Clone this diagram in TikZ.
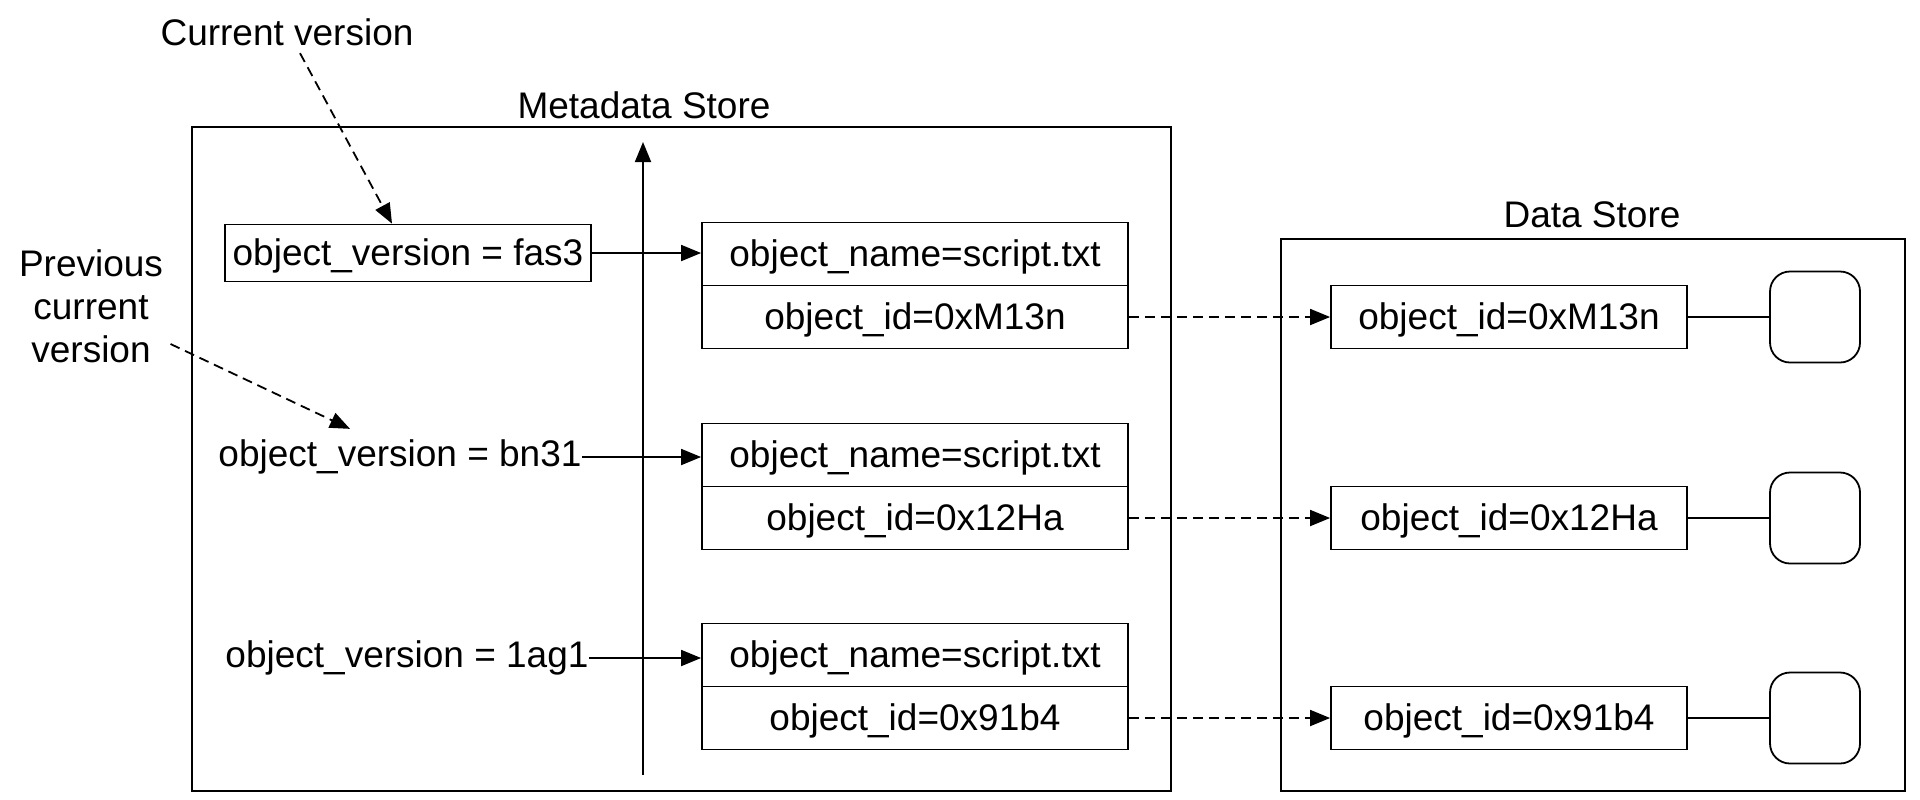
\documentclass[tikz,border=0pt]{standalone}
\usepackage{fontspec}
\setmainfont{Liberation Sans}
\usetikzlibrary{arrows.meta}
\tikzset{
  cell/.style={draw,inner sep=0pt,minimum width=213pt,minimum height=31.5pt,text depth=1pt},
  verbox/.style={draw,inner sep=0pt,minimum width=183pt,minimum height=28.5pt,text depth=1pt},
  idbox/.style={draw,inner sep=0pt,minimum width=178pt,minimum height=31.5pt,text depth=1pt},
  blob/.style={draw,rounded corners=10pt,minimum width=45pt,minimum height=45.5pt},
  txt/.style={inner sep=0pt}
}
\begin{document}
\begin{tikzpicture}[x=.5pt,y=-.5pt,line width=.9pt,>={Triangle[length=10pt,width=8pt]},
  font=\fontsize{18.5pt}{21.5pt}\selectfont]
\useasboundingbox (0,0) rectangle (1920,799);
\node[txt] (metalbl) at (644,105) {Metadata Store};
\draw (192,127) rectangle (1171,791);
\node[txt] (datalbl) at (1592,215) {Data Store};
\draw (1281,239) rectangle (1905,791);
\coordinate (axbot) at (643,775); \coordinate (axtop) at (643,142);
\draw[->] (axbot)--(axtop);
\foreach \n/\y/\id in {1/254/0xM13n,2/455/0x12Ha,3/655/0x91b4}{
  \node[cell] (name\n) at (915,\y) {object\_name=script.txt};
  \node[cell] (id\n) at (915,\y+63) {object\_id=\id};
  \node[idbox] (dataid\n) at (1509,\y+63) {object\_id=\id};
  \node[blob] (blob\n) at (1815,\y+63) {};
  \draw[->,dash pattern=on 5pt off 3pt] (id\n)--(dataid\n);
  \draw (dataid\n)--(blob\n);
}
\node[verbox] (ver1) at (408,253) {object\_version = fas3};
\node[txt] (ver2) at (400,457) {object\_version = bn31};
\node[txt] (ver3) at (407,658) {object\_version = 1ag1};
\foreach \n in {1,2,3}{\draw[->] (ver\n.east)--(ver\n.east -| name\n.west);}
\node (cur) at (287,32) {Current version};
\node[align=center] (prev) at (91,306) {Previous\\current\\version};
\draw[->,dash pattern=on 5pt off 3pt] ([xshift=6.5pt]cur.south)--([xshift=-8pt]ver1.north);
\draw[->,dash pattern=on 5pt off 3pt] ([yshift=-19pt]prev.east)--([shift={(-25pt,5pt)}]ver2.north);
\end{tikzpicture}
\end{document}
